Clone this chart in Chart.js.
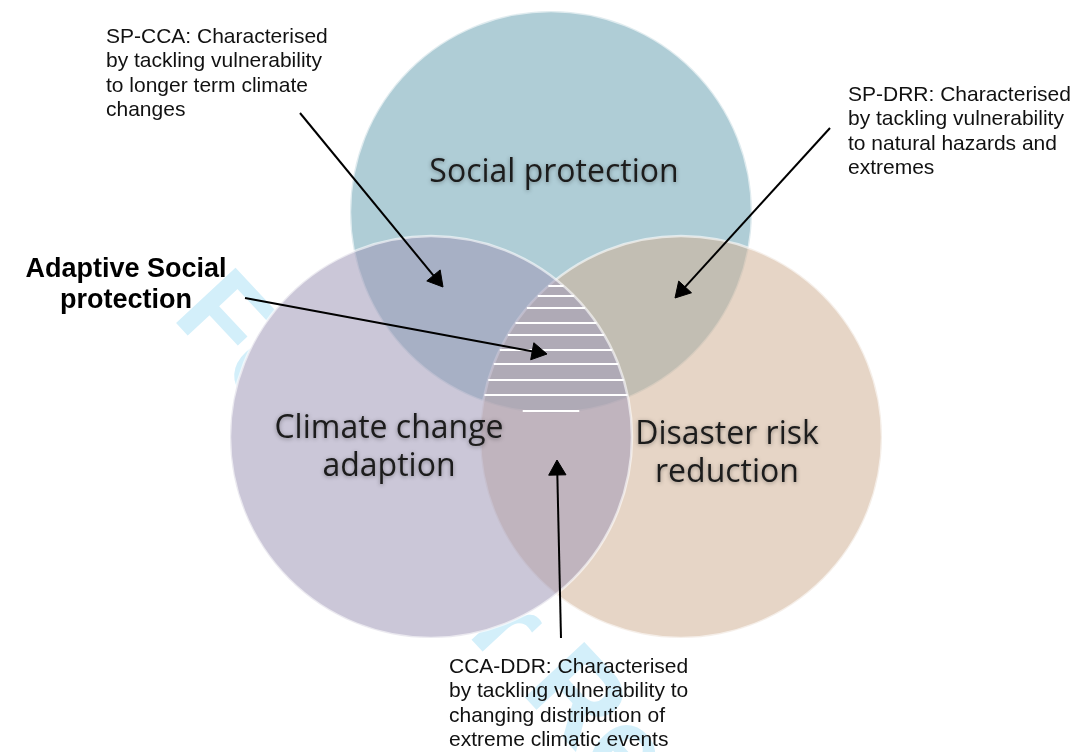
<!DOCTYPE html>
<html>
<head>
<meta charset="utf-8">
<title>Adaptive social protection</title>
<script src="https://cdn.jsdelivr.net/npm/chart.js@4.4.1/dist/chart.umd.min.js"></script>
<style>
  html, body { margin: 0; padding: 0; background: #fff; }
  #wrap { width: 1079px; height: 752px; position: relative; }
</style>
</head>
<body>
<div id="wrap"><canvas id="venn"></canvas></div>
<script>
// --- circles (drawn top, right, left: later ones sit on top) ---
const circleNames = ['Social protection', 'Disaster risk reduction', 'Climate change adaption'];
const circleX = [551, 681, 431];
const circleY = [212, 437, 437];
const circleR = [201, 201, 201];

// text inside the circles
const circleLabels = [['Social protection'], ['Disaster risk', 'reduction'], ['Climate change', 'adaption']];

// white hatch lines across the three-way overlap
const hatchY = [286, 296, 308, 323, 335, 350, 364, 380, 395, 411];

// arrows: tail -> tip
const arrowNames = ['SP-CCA', 'SP-DRR', 'Adaptive Social protection', 'CCA-DDR'];
const arrowFromX = [300, 830, 245, 561];
const arrowFromY = [113, 128, 298, 638];
const arrowToX = [443, 675, 547, 557];
const arrowToY = [287, 298, 354, 460];

// callout notes
const noteLines = [
    ['SP-CCA: Characterised', 'by tackling vulnerability', 'to longer term climate', 'changes'],
    ['SP-DRR: Characterised', 'by tackling vulnerability', 'to natural hazards and', 'extremes'],
    ['CCA-DDR: Characterised', 'by tackling vulnerability to', 'changing distribution of', 'extreme climatic events']
];
const titleLines = ['Adaptive Social', 'protection'];

// --- layout / style (not data) ---
const circleFill = ['rgba(110,164,180,0.55)', 'rgba(210,179,151,0.55)', 'rgba(160,153,184,0.55)'];
const labelPos = [[554, 182], [727, 444], [389, 438]];
const notePos = [[106, 43], [848, 101], [449, 673]];
const HEAD = 10;

function pxRadius(c) {
    const i = c.dataIndex;
    const s = c.chart.scales && c.chart.scales.x;
    let v = NaN;
    if (s) v = Math.abs(s.getPixelForValue(circleX[i] + circleR[i]) - s.getPixelForValue(circleX[i]));
    return (isFinite(v) && v > 1) ? v : circleR[i];
}

function circlePoints() {
    return circleX.map((x, i) => ({ x: x, y: circleY[i] }));
}

// hatch segments = chord of the triple intersection at each hatch height
function hatchData() {
    const pts = [];
    hatchY.forEach(y => {
        let lo = -Infinity, hi = Infinity;
        for (let i = 0; i < circleX.length; i++) {
            const dy = y - circleY[i];
            const h2 = circleR[i] * circleR[i] - dy * dy;
            if (h2 <= 0) { lo = Infinity; break; }
            const h = Math.sqrt(h2);
            lo = Math.max(lo, circleX[i] - h);
            hi = Math.min(hi, circleX[i] + h);
        }
        if (hi > lo) pts.push({ x: lo, y: y }, { x: hi, y: y }, { x: hi, y: null });
    });
    return pts;
}

const arrowSets = arrowFromX.map((fx, i) => {
    const fy = arrowFromY[i];
    const dx = arrowToX[i] - fx, dy = arrowToY[i] - fy;
    const len = Math.hypot(dx, dy);
    const hx = arrowToX[i] - dx / len * HEAD;
    const hy = arrowToY[i] - dy / len * HEAD;
    return {
        type: 'scatter',
        label: arrowNames[i],
        data: [{ x: fx, y: fy }, { x: hx, y: hy }],
        showLine: true,
        borderColor: '#000',
        borderWidth: 2,
        pointRadius: [0, HEAD],
        pointStyle: 'triangle',
        rotation: Math.atan2(dx, -dy) * 180 / Math.PI,
        pointBackgroundColor: '#000',
        pointBorderColor: '#000',
        pointBorderWidth: 1,
        clip: false,
        order: 0
    };
});

// faint page watermark behind the diagram
const watermarkPlugin = {
    id: 'watermark',
    beforeDatasetsDraw(chart) {
        const ctx = chart.ctx, sx = chart.scales.x, sy = chart.scales.y;
        ctx.save();
        ctx.translate(sx.getPixelForValue(200), sy.getPixelForValue(290));
        ctx.rotate(47 * Math.PI / 180);
        ctx.fillStyle = '#d3effa';
        ctx.font = 'bold 118px "Liberation Sans", Arial, sans-serif';
        ctx.textBaseline = 'alphabetic';
        ctx.fillText('For Peer Review', 0, 40);
        ctx.restore();
    }
};

const textPlugin = {
    id: 'vennText',
    afterDatasetsDraw(chart) {
        const ctx = chart.ctx, sx = chart.scales.x, sy = chart.scales.y;
        ctx.save();

        // circle names, soft shadow like the SmartArt text
        ctx.textAlign = 'center';
        ctx.textBaseline = 'alphabetic';
        ctx.font = '32px "Open Sans", sans-serif';
        ctx.fillStyle = '#1c1c1c';
        ctx.shadowColor = 'rgba(0,0,0,0.35)';
        ctx.shadowBlur = 4;
        ctx.shadowOffsetY = 1;
        circleLabels.forEach((lines, i) => {
            lines.forEach((t, j) => {
                ctx.fillText(t, sx.getPixelForValue(labelPos[i][0]), sy.getPixelForValue(labelPos[i][1] + j * 38));
            });
        });
        ctx.shadowColor = 'transparent';
        ctx.shadowBlur = 0;
        ctx.shadowOffsetY = 0;

        // bold title on the left
        ctx.font = 'bold 27px "Liberation Sans", Arial, sans-serif';
        ctx.fillStyle = '#000';
        titleLines.forEach((t, j) => {
            ctx.fillText(t, sx.getPixelForValue(126), sy.getPixelForValue(277 + j * 31));
        });

        // callout notes
        ctx.textAlign = 'left';
        ctx.font = '21px "Liberation Sans", Arial, sans-serif';
        ctx.fillStyle = '#111';
        noteLines.forEach((lines, i) => {
            lines.forEach((t, j) => {
                ctx.fillText(t, sx.getPixelForValue(notePos[i][0]), sy.getPixelForValue(notePos[i][1] + j * 24.4));
            });
        });
        ctx.restore();
    }
};

new Chart(document.getElementById('venn'), {
    type: 'bubble',
    data: {
        datasets: [
            ...arrowSets,
            {
                type: 'scatter',
                label: 'hatch',
                data: hatchData(),
                showLine: true,
                spanGaps: false,
                borderColor: '#ffffff',
                borderWidth: 2,
                pointRadius: 0,
                clip: false,
                order: 1
            },
            {
                type: 'bubble',
                label: 'circles',
                data: circlePoints(),
                radius: pxRadius,
                backgroundColor: circleFill,
                borderColor: 'rgba(255,255,255,0.6)',
                borderWidth: 2.5,
                clip: false,
                order: 2
            },
            {
                type: 'bubble',
                label: 'base',
                data: circlePoints(),
                radius: pxRadius,
                backgroundColor: '#ffffff',
                borderColor: '#ffffff',
                borderWidth: 0,
                clip: false,
                order: 3
            }
        ]
    },
    options: {
        responsive: true,
        maintainAspectRatio: false,
        animation: false,
        events: [],
        layout: { padding: 0, autoPadding: false },
        scales: {
            x: { type: 'linear', min: 0, max: 1079, display: false },
            y: { type: 'linear', min: 0, max: 752, reverse: true, display: false }
        },
        plugins: {
            legend: { display: false },
            tooltip: { enabled: false }
        }
    },
    plugins: [watermarkPlugin, textPlugin]
});
</script>
</body>
</html>
